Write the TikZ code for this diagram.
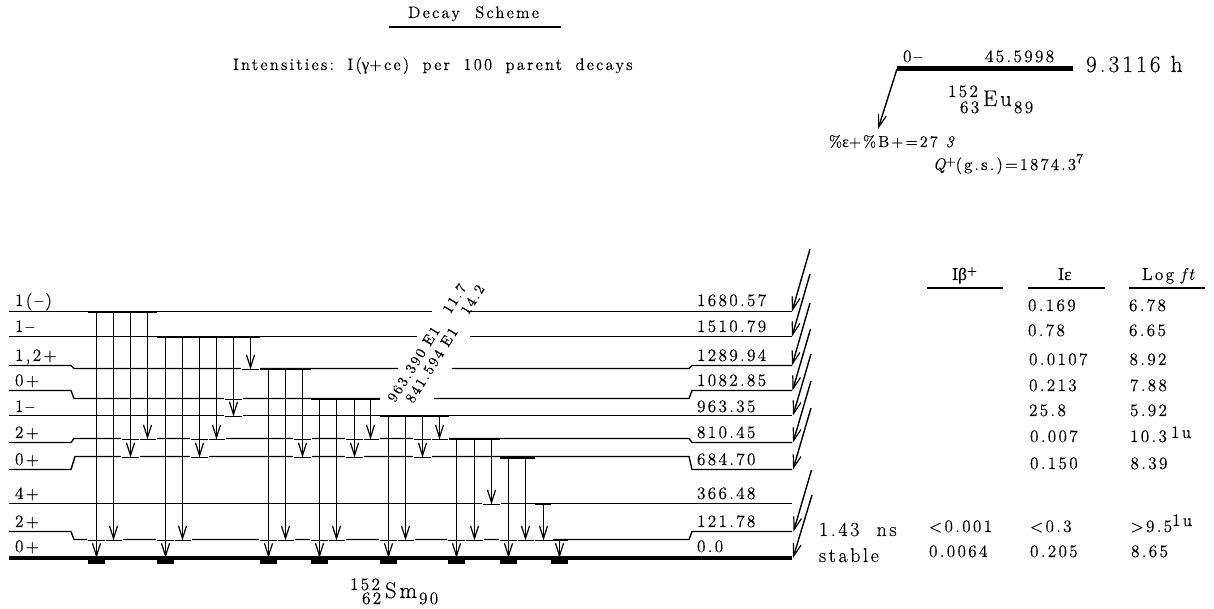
\documentclass[tikz,border=0pt]{standalone}
\usepackage{fontspec}
\usetikzlibrary{arrows.meta}
\newfontfamily\lms[LetterSpace=13,FakeBold=0.3,ItalicFeatures={FakeBold=0.3}]{Latin Modern Roman}
\newfontfamily\grk[LetterSpace=5,FakeBold=0.2]{Liberation Serif}
\newcount\tc
\tikzset{
  lvl/.style={line width=1.05pt,line join=round},
  gnd/.style={line width=3.6pt},
  srcbar/.style={line width=1.5pt},
  landbar/.style={line width=1pt},
  gamarrow/.style={line width=1.05pt,-{Straight Barb[length=9.5pt,width=6pt,line width=.9pt]}},
  txt/.style={anchor=base west,inner sep=0pt,outer sep=0pt},
}
\newcommand{\tx}[4][13]{\global\advance\tc by 1
  \node[txt,font=\fontsize{#1}{#1}\selectfont\lms] (t\the\tc) at (#2,#3) {#4};}
\newcommand{\arr}[4]{\global\advance\tc by 1
  \coordinate (a\the\tc) at (#1,#2); \coordinate (b\the\tc) at (#3,#4);
  \draw[gamarrow] (a\the\tc) -- (b\the\tc);}
\newcommand{\wsp}{\hspace{10pt}}
\begin{document}
\begin{tikzpicture}[x=0.75pt,y=-0.75pt]
\useasboundingbox (0,0) rectangle (1214,609);
% levels
\draw[lvl] (9,311.5) -- (432,311.5) (467,311.5) -- (792,311.5);
\draw[lvl] (9,336.5) -- (417,336.5) (470,336.5) -- (792,336.5);
\draw[lvl] (9,365.5) -- (71,365.5) -- (74,368.5) -- (398,368.5) (452,368.5) -- (689,368.5) -- (692,365.5) -- (792,365.5);
\draw[lvl] (9,390.5) -- (71,390.5) -- (74,398.5) -- (380,398.5) (434,398.5) -- (689,398.5) -- (692,390.5) -- (792,390.5);
\draw[lvl] (9,415.5) -- (792,415.5);
\draw[lvl] (9,442.5) -- (71,442.5) -- (74,438.5) -- (689,438.5) -- (692,442.5) -- (792,442.5);
\draw[lvl] (9,469.5) -- (71,469.5) -- (75,456.5) -- (689,456.5) -- (692,469.5) -- (792,469.5);
\draw[lvl] (9,503.5) -- (792,503.5);
\draw[lvl] (9,531.5) -- (71,531.5) -- (74,539.5) -- (689,539.5) -- (692,531.5) -- (792,531.5);
\draw[gnd] (9,558) -- (792,558);
% landing gaps and bars
\foreach \x/\l in {113.5/539.5,182.5/539.5,285.5/539.5,336.5/539.5,405.5/539.5,474.5/539.5,525.5/539.5,543.5/539.5,
  96.5/539.5,165.5/539.5,268.5/539.5,319.5/539.5,388.5/539.5,456.5/539.5,508.5/539.5,
  130.5/456.5,199.5/456.5,302.5/456.5,354.5/456.5,422.5/456.5,
  147.5/438.5,216.5/438.5,370.5/438.5,439.5/438.5,130.5/438.5,199.5/438.5,302.5/438.5,354.5/438.5,422.5/438.5,
  233.5/415.5,233.5/398.5,250.5/368.5,491.5/503.5}{
  \fill[white] (\x-9.3,\l-1.2) rectangle (\x+9.3,\l+1.2);
  \draw[landbar] (\x-8.4,\l+1) -- (\x+8.4,\l+1);
}
% source bars
\draw[srcbar] (88,312) -- (157,312);
\draw[srcbar] (157,337) -- (260,337);
\draw[srcbar] (260,369) -- (311,369);
\draw[srcbar] (311,399) -- (380,399);
\draw[srcbar] (380,416) -- (449,416);
\draw[srcbar] (449,439) -- (500,439);
\draw[srcbar] (500,458) -- (534.5,458);
\draw[landbar] (535,504.5) -- (551,504.5);
\draw[landbar] (552,540.5) -- (568,540.5);
% ground blocks
\foreach \x in {96.5,165.5,268.5,319.5,388.5,456.5,508.5,559.5}{
  \fill (\x-8.6,558) rectangle (\x+8.6,563.5);
}
% gamma arrows
\foreach \x/\a/\b in {
 96.5/312/558,113.5/312/540.5,130.5/312/457.5,147.5/312/439.5,
 165.5/337/558,182.5/337/540.5,199.5/337/457.5,216.5/337/439.5,233.5/337/416.5,250.5/337/369.5,
 268.5/369/558,285.5/369/540.5,302.5/369/457.5,
 319.5/399/558,336.5/399/540.5,354.5/399/457.5,370.5/399/439.5,
 388.5/416/558,405.5/416/540.5,422.5/416/457.5,439.5/416/439.5,
 456.5/439/558,474.5/439/540.5,491.5/439/504.5,
 508.5/458/558,525.5/458/540.5,
 543.5/504.5/540.5,559.5/540.5/558}{
  \arr{\x}{\a}{\x}{\b}
}
% decay arrows at right
\foreach \xa/\ya/\xb/\yb in {810/249/792/311.5,810/274/792/336.5,810/303/792/365.5,810.5/329/792.5/390.5,
 811/354/793/415.5,811/381/793/442.5,811/408/793/469.5,811.5/470/793.5/531.5,812/495/793/558,897/69/878/129}{
  \arr{\xa}{\ya}{\xb}{\yb}
}
% parent
\draw[gnd] (897,68.7) -- (1073,68.7);
\tx{903}{62}{0–}
\tx{985}{62}{45.5998}
\tx[17.5]{1086}{72}{9.3116 h}
\tx{948}{97}{152}
\tx{960}{113}{63}
\tx[17]{983}{106}{Eu}
\tx{1014}{113}{89}
\tx[12]{829}{147}{\%{\grk ε}+\%B+=27\hspace{6pt}{\itshape 3}}
\tx[12.5]{933}{170}{{\itshape Q}\raisebox{3.5pt}{\fontsize{9.5}{9.5}\selectfont +}(g.s.)=1874.3\raisebox{5pt}{\fontsize{10.5}{10.5}\selectfont 7}}
% title
\tx[12.5]{408}{18}{Decay\ \ Scheme}
\draw[line width=1pt] (389,27) -- (561,27);
\tx[12.5]{233}{70}{Intensities:\wsp I({\grk γ}+ce)\wsp per\wsp 100\wsp parent\wsp decays}
% spins
\foreach \s/\y in {1(–)/306,1–/332,{1,2+}/361,0+/386,1–/412,2+/438,0+/465,4+/499,2+/527,0+/552}{
  \tx{15}{\y}{\s}
}
% energies
\foreach \s/\y in {1680.57/306,1510.79/332,1289.94/361,1082.85/386,963.35/412,810.45/438,684.70/465,366.48/499,121.78/527,0.0/552}{
  \tx{697}{\y}{\s}
}
% daughter
\tx{350}{590}{152}
\tx{362}{604}{62}
\tx[17]{385}{598}{Sm}
\tx{419}{604}{90}
% rotated gamma labels
\node[txt,rotate=58,font=\fontsize{11}{11}\selectfont\lms] (r1) at (395,403) {963.390\ E1\hspace{14pt}11.7};
\node[txt,rotate=58,font=\fontsize{11}{11}\selectfont\lms] (r2) at (413,404) {841.594\ E1\hspace{14pt}14.2};
% table
\tx{952}{280}{I{\grk β}\raisebox{4pt}{\fontsize{9.5}{9.5}\selectfont +}}
\tx{1058}{280}{I{\grk ε}}
\tx{1142}{280}{Log\hspace{5pt}{\itshape ft}}
\draw[srcbar] (927,288) -- (1003,288);
\draw[srcbar] (1028,288) -- (1104.5,288);
\draw[srcbar] (1129,288) -- (1205,288);
\foreach \a/\b/\y/\xa/\xb in {0.169/6.78/311/1028/1129,0.78/6.65/336/1028/1129,0.0107/8.92/365/1029/1129.5,
 0.213/7.88/391/1029/1130,25.8/5.92/416/1029/1130,0.007/{10.3}/442/1030/1130,0.150/8.39/469/1030/1130.5,
 {<0.3}/{>9.5}/532/1030/1130.5,0.205/8.65/557/1030/1131}{
  \tx{\xa}{\y}{\a}
  \tx{\xb}{\y}{\b}
}
\tx{1171}{438}{1u}
\tx{1172}{526}{1u}
\tx{929}{532}{<0.001}
\tx{929}{557}{0.0064}
\tx[15]{819}{536}{1.43\ \ ns}
\tx[15]{819}{562}{stable}
\end{tikzpicture}
\end{document}
